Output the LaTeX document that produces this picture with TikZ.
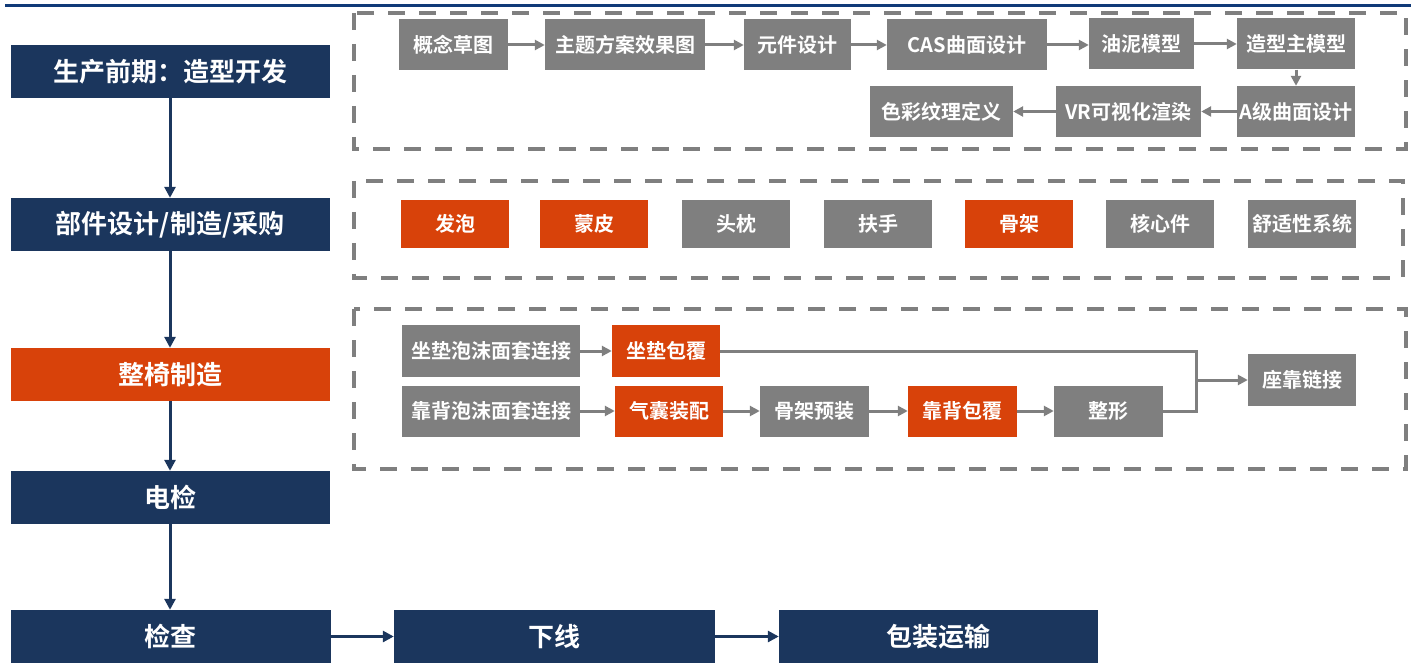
\documentclass[tikz,border=0pt]{standalone}
\usepackage{fontspec}
\setmainfont{Noto Sans CJK SC}[BoldFont={Noto Sans CJK SC Bold}]
\usetikzlibrary{arrows.meta}
\definecolor{navy}{RGB}{27,54,93}
\definecolor{topline}{RGB}{16,58,120}
\definecolor{orng}{RGB}{216,66,10}
\definecolor{gry}{RGB}{127,127,127}
\tikzset{
  base/.style={inner sep=0pt, text=white, font=\bfseries\fontsize{20}{20}\selectfont},
  gbox/.style={base, fill=gry, minimum height=51pt},
  obox/.style={base, fill=orng, minimum height=51pt},
  lbox/.style={base, fill=navy, minimum width=319pt, minimum height=53pt, font=\bfseries\fontsize{26}{26}\selectfont},
  lobox/.style={lbox, fill=orng},
  frame/.style={draw=gry, line width=3.5pt, dash pattern=on 17pt off 14pt},
  garrow/.style={draw=gry, line width=3pt, -{Triangle[length=10pt,width=10pt]}},
  gline/.style={draw=gry, line width=3pt},
  narrow/.style={draw=navy, line width=3pt, -{Triangle[length=11pt,width=11pt]}},
}
\begin{document}
\begin{tikzpicture}[x=1pt,y=-1pt]
\useasboundingbox (0,0) rectangle (1419,668);
% top rule
\draw[topline, line width=3pt] (5,6) -- (1411,6);
% dashed frames
\draw[frame] (354,13) rectangle (1406,149);
\draw[frame] (354,181) rectangle (1403,278);
\draw[frame] (354,309) rectangle (1406,469);
% left column
\node[lbox] (L1) at (170,71.5) {生产前期：造型开发};
\node[lbox] (L2) at (170,224.5) {部件设计/制造/采购};
\node[lobox] (L3) at (170,374.5) {整椅制造};
\node[lbox] (L4) at (170,497.5) {电检};
\node[lbox, minimum width=320pt] (L5) at (170.5,636.5) {检查};
\node[lbox, minimum width=321pt] (D1) at (554.5,636.5) {下线};
\node[lbox] (D2) at (938.5,636.5) {包装运输};
\draw[narrow] (L1.south) -- (L1.south |- L2.north);
\draw[narrow] (L2.south) -- (L2.south |- L3.north);
\draw[narrow] (L3.south) -- (L3.south |- L4.north);
\draw[narrow] (L4.south) -- (L4.south |- L5.north);
\draw[narrow] (L5) -- (D1);
\draw[narrow] (D1) -- (D2);
% top process
\node[gbox, minimum width=109pt] (t1) at (453.5,45) {概念草图};
\node[gbox, minimum width=160pt] (t2) at (625,45) {主题方案效果图};
\node[gbox, minimum width=107pt] (t3) at (797.5,45) {元件设计};
\node[gbox, minimum width=160pt] (t4) at (967,45) {CAS曲面设计};
\node[gbox, minimum width=105pt] (t5) at (1141.5,44) {油泥模型};
\node[gbox, minimum width=118pt] (t6) at (1296,44) {造型主模型};
\node[gbox, minimum width=118pt] (t7) at (1296,111.5) {A级曲面设计};
\node[gbox, minimum width=145pt] (t8) at (1128.5,111.5) {VR可视化渲染};
\node[gbox, minimum width=143pt] (t9) at (941.5,111.5) {色彩纹理定义};
\draw[garrow] (t1) -- (t2);
\draw[garrow] (t2) -- (t3);
\draw[garrow] (t3) -- (t4);
\draw[garrow] (t4.east) -- (t4.east -| t5.west);
\draw[garrow] (t5) -- (t6);
\draw[garrow] (t6) -- (t7);
\draw[garrow] (t7) -- (t8);
\draw[garrow] (t8) -- (t9);
% components
\node[obox, minimum width=108pt, minimum height=48pt] (c1) at (455,224) {发泡};
\node[obox, minimum width=108pt, minimum height=48pt] (c2) at (594,224) {蒙皮};
\node[gbox, minimum width=108pt, minimum height=48pt] (c3) at (736,224) {头枕};
\node[gbox, minimum width=108pt, minimum height=48pt] (c4) at (878,224) {扶手};
\node[obox, minimum width=108pt, minimum height=48pt] (c5) at (1019,224) {骨架};
\node[gbox, minimum width=108pt, minimum height=48pt] (c6) at (1160,224) {核心件};
\node[gbox, minimum width=108pt, minimum height=48pt] (c7) at (1302,224) {舒适性系统};
% assembly
\node[gbox, minimum width=178pt] (sA) at (491,351) {坐垫泡沫面套连接};
\node[obox, minimum width=108pt] (sB) at (666,351) {坐垫包覆};
\node[gbox, minimum width=178pt] (bA) at (491,411) {靠背泡沫面套连接};
\node[obox, minimum width=108pt] (bB) at (669,411) {气囊装配};
\node[gbox, minimum width=109pt] (bC) at (814.5,411) {骨架预装};
\node[obox, minimum width=109pt] (bD) at (962.5,411) {靠背包覆};
\node[gbox, minimum width=109pt] (bE) at (1108.5,411) {整形};
\node[gbox, minimum width=108pt, minimum height=52pt] (J) at (1302,380) {座靠链接};
\coordinate (m) at (1196,380);
\draw[garrow] (sA) -- (sB);
\draw[garrow] (bA) -- (bB);
\draw[garrow] (bB) -- (bC);
\draw[garrow] (bC) -- (bD);
\draw[garrow] (bD) -- (bE);
\draw[gline] (sB.east) -| (m);
\draw[gline] (bE.east) -| (m);
\draw[garrow] (m) -- (J);
\end{tikzpicture}
\end{document}
